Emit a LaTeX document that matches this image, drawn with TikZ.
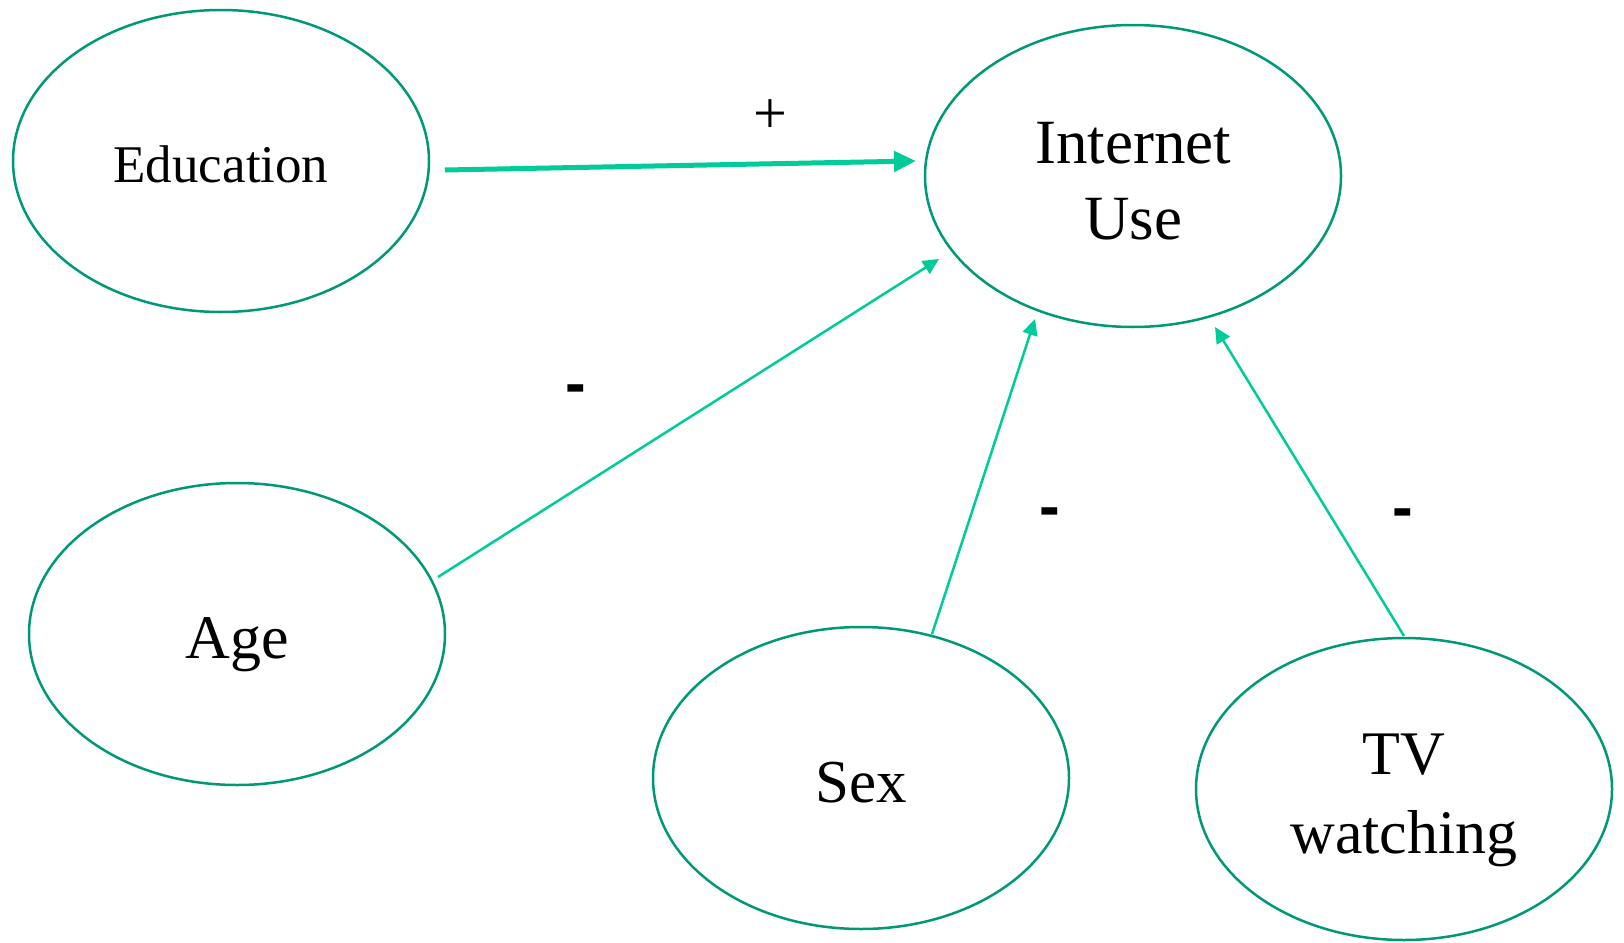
\documentclass[tikz,border=0pt]{standalone}
\usepackage{fontspec}
\setmainfont{Liberation Serif}
\newfontfamily\dashfont{Liberation Sans}
\usetikzlibrary{shapes.geometric,arrows.meta}
\definecolor{ringcol}{HTML}{009977}
\definecolor{arrcol}{HTML}{00CC99}
\tikzset{
  bubble/.style={ellipse, draw=ringcol, line width=2.5pt, minimum width=416pt, minimum height=302pt, inner sep=0pt},
  bubbletext/.style={inner sep=0pt, align=center},
  thinarrow/.style={draw=arrcol, line width=2.5pt, -{Triangle[length=16pt,width=15pt]}},
  thickarrow/.style={draw=arrcol, line width=5pt, -{Triangle[length=22pt,width=20pt]}},
  signlab/.style={inner sep=0pt, font=\dashfont\bfseries\fontsize{62}{62}\selectfont},
  pluslab/.style={inner sep=0pt, font=\fontsize{60}{60}\selectfont}
}
\begin{document}
\begin{tikzpicture}[x=1pt,y=-1pt]
\useasboundingbox (0,0) rectangle (1624,942);
\node[bubble] (edu) at (221,161) {};
\node[bubble] (inet) at (1133,176) {};
\node[bubble] (age) at (237,634) {};
\node[bubble] (sex) at (861,778) {};
\node[bubble] (tv) at (1404,789) {};
\node[bubbletext, font=\fontsize{53}{58}\selectfont] (edut) at (221,164) {Education};
\node[bubbletext, font=\fontsize{63}{76}\selectfont] (inett) at (1133,181) {Internet\\Use};
\node[bubbletext, font=\fontsize{62}{70}\selectfont] (aget) at (237,645) {Age};
\node[bubbletext, font=\fontsize{61}{70}\selectfont] (sext) at (861,783) {Sex};
\node[bubbletext, font=\fontsize{62}{79}\selectfont] (tvt) at (1404,800) {TV\\watching};
\coordinate (e1) at (445,170);
\coordinate (e2) at (916,161);
\coordinate (a1) at (438,577);
\coordinate (a2) at (939,259);
\coordinate (s1) at (932,634);
\coordinate (s2) at (1035,319);
\coordinate (t1) at (1404,636);
\coordinate (t2) at (1215,327);
\draw[thickarrow] (e1) -- (e2);
\draw[thinarrow] (a1) -- (a2);
\draw[thinarrow] (s1) -- (s2);
\draw[thinarrow] (t1) -- (t2);
\node[pluslab] (plus) at (770,117) {+};
\node[signlab] (m1) at (576,395) {-};
\node[signlab] (m2) at (1050,518) {-};
\node[signlab] (m3) at (1403,519) {-};
\end{tikzpicture}
\end{document}
